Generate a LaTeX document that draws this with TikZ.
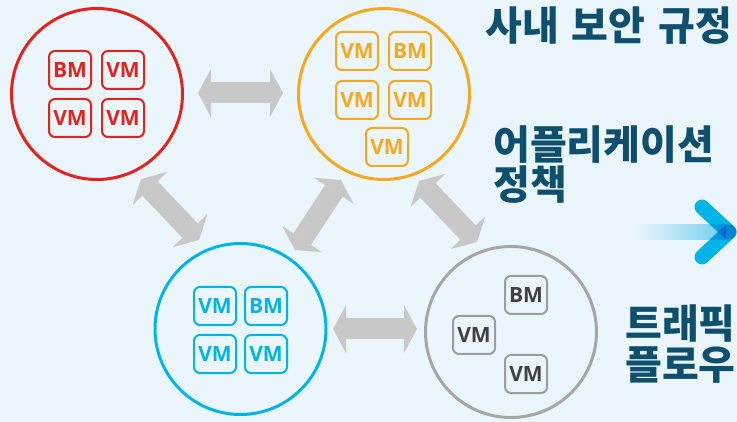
\documentclass[tikz,border=0pt]{standalone}
\usepackage{fontspec}
\usetikzlibrary{arrows.meta}
\newfontfamily\krfont{Noto Sans CJK KR}
\newfontfamily\vmfont{Open Sans}
\definecolor{bgc}{RGB}{234,246,252}
\definecolor{cred}{RGB}{226,35,30}
\definecolor{corange}{RGB}{247,168,30}
\definecolor{cblue}{RGB}{0,180,230}
\definecolor{cgray}{RGB}{166,166,166}
\definecolor{cgraytxt}{RGB}{64,64,64}
\definecolor{agray}{RGB}{200,200,200}
\definecolor{ctitle}{RGB}{14,79,110}
\definecolor{carm}{RGB}{0,187,235}
\definecolor{ctail}{RGB}{115,205,240}
\tikzset{
  ring/.style={circle, line width=3pt, minimum size=171pt, inner sep=0pt},
  vmbox/.style={rounded corners=6pt, line width=2pt, minimum width=42pt, minimum height=38pt, inner sep=0pt,
    font=\vmfont\bfseries\fontsize{21}{21}\selectfont},
  redbox/.style={vmbox, draw=cred, text=cred},
  orabox/.style={vmbox, draw=corange, text=corange},
  blubox/.style={vmbox, draw=cblue, text=cblue},
  grabox/.style={vmbox, draw=cgray!110, text=cgraytxt},
  dbl/.style={draw=agray, line width=21pt, >={Triangle[length=13pt,width=48pt,line width=0pt]}, <->},
  title/.style={anchor=base west, inner sep=0pt, text=ctitle, align=left,
    font=\krfont\bfseries\fontsize{40}{40}\selectfont},
  arm/.style={draw=carm, line width=15pt, line cap=round}
}
\begin{document}
\begin{tikzpicture}[x=1pt,y=-1pt]
\useasboundingbox (0,0) rectangle (737,422);
\fill[bgc] (0,0) rectangle (737,422);

% circles
\node[ring, draw=cred] (red) at (97,94) {};
\node[ring, draw=corange] (orange) at (384,94) {};
\node[ring, draw=cblue] (blue) at (240.5,329) {};
\node[ring, draw=cgray] (gray) at (511,332) {};

% boxes
\node[redbox] (r1) at (70,70) {BM};
\node[redbox] (r2) at (123,70) {VM};
\node[redbox] (r3) at (70,118) {VM};
\node[redbox] (r4) at (123,118) {VM};

\node[orabox] (o1) at (357,51) {VM};
\node[orabox] (o2) at (410,51) {BM};
\node[orabox] (o3) at (357,100) {VM};
\node[orabox] (o4) at (410,100) {VM};
\node[orabox] (o5) at (387,147) {VM};

\node[blubox] (b1) at (215,306) {VM};
\node[blubox] (b2) at (266,306) {BM};
\node[blubox] (b3) at (215,354) {VM};
\node[blubox] (b4) at (266,354) {VM};

\node[grabox] (g1) at (526,295) {BM};
\node[grabox] (g2) at (474,335) {VM};
\node[grabox] (g3) at (526,374) {VM};

% double arrows
\coordinate (a1s) at (198,93);  \coordinate (a1e) at (283,93);
\coordinate (a2s) at (333,329); \coordinate (a2e) at (417,329);
\coordinate (a3s) at (141,179); \coordinate (a3e) at (199,240);
\coordinate (a4s) at (341,180); \coordinate (a4e) at (295,250);
\coordinate (a5s) at (419,181); \coordinate (a5e) at (477,242);
\draw[dbl] (a1s) -- (a1e);
\draw[dbl] (a2s) -- (a2e);
\draw[dbl] (a3s) -- (a3e);
\draw[dbl] (a4s) -- (a4e);
\draw[dbl] (a5s) -- (a5e);

% titles
\node[title] (t1) at (485,41) {사내\hspace{13pt}보안\hspace{13pt}규정};
\node[title] (t2) at (493,200) {어플리케이션\\정책};
\node[title] (t3) at (625,379) {트래픽\\플로우};

% chevron
\shade[left color=bgc, right color=ctail] (636,225) rectangle (726,240);
\coordinate (chv) at (729,232);
\coordinate (chu) at (702,207);
\coordinate (chl) at (702,257);
\begin{scope}[blend mode=multiply]
\draw[arm] (chu) -- (chv);
\draw[arm] (chl) -- (chv);
\end{scope}
\end{tikzpicture}
\end{document}
